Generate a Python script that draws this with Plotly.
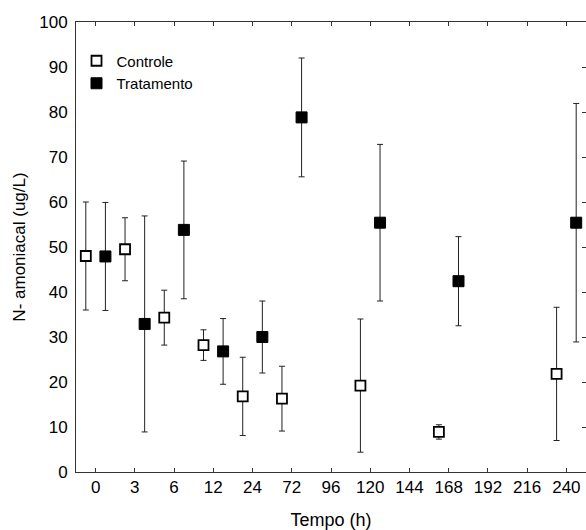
import plotly.graph_objects as go

categories = ["0", "3", "6", "12", "24", "72", "96", "120", "144", "168", "192", "216", "240"]
controle_mean = [48.0, 49.5, 34.3, 28.2, 16.8, 16.3, None, 19.2, None, 8.9, None, None, 21.8]
controle_err = [12.0, 7.0, 6.1, 3.4, 8.7, 7.2, None, 14.8, None, 1.6, None, None, 14.8]
trat_mean = [47.9, 32.9, 53.8, 26.8, 30.0, 78.8, None, 55.4, None, 42.4, None, None, 55.4]
trat_err = [12.0, 24.0, 15.3, 7.3, 8.0, 13.2, None, 17.4, None, 9.9, None, None, 26.5]

def pts(means, errs, off):
    xs, ys, es = [], [], []
    for i, (m, e) in enumerate(zip(means, errs)):
        if m is not None:
            xs.append(i + off)
            ys.append(m)
            es.append(e)
    return xs, ys, es

cx, cy, ce = pts(controle_mean, controle_err, -0.25)
tx, ty, te = pts(trat_mean, trat_err, 0.25)

fig = go.Figure()
fig.add_trace(go.Scatter(
    x=cx, y=cy, mode="markers", name="Controle",
    marker=dict(symbol="square", size=10, color="white", line=dict(color="black", width=1.8)),
    error_y=dict(type="data", array=ce, visible=True, color="#222", thickness=1, width=3),
))
fig.add_trace(go.Scatter(
    x=tx, y=ty, mode="markers", name="Tratamento",
    marker=dict(symbol="square", size=11, color="black", line=dict(color="black", width=1)),
    error_y=dict(type="data", array=te, visible=True, color="#222", thickness=1, width=3),
))
fig.add_trace(go.Scatter(x=[0], y=[0], yaxis="y2", mode="markers", marker=dict(opacity=0),
                         showlegend=False, hoverinfo="skip"))

axis_font = dict(family="Liberation Sans, Arial", size=17, color="black")
fig.update_layout(
    width=586, height=530,
    margin=dict(l=76, r=0, t=22, b=58),
    plot_bgcolor="white", paper_bgcolor="white",
    font=dict(family="Liberation Sans, Arial", color="black"),
    showlegend=True,
    legend=dict(x=0.001, y=0.95, xanchor="left", yanchor="top", bgcolor="rgba(0,0,0,0)",
                font=dict(size=15), itemwidth=30, tracegroupgap=0),
    xaxis=dict(
        range=[-0.5, 12.5], tickvals=list(range(len(categories))), ticktext=categories,
        showgrid=False, zeroline=False, showline=True, linecolor="#333", linewidth=1,
        mirror="ticks", ticks="inside", ticklen=4, tickcolor="#333",
        tickfont=axis_font, automargin=False,
        title=dict(text="Tempo (h)", font=dict(size=18), standoff=16),
    ),
    yaxis=dict(
        range=[0, 100], dtick=10, showgrid=False, zeroline=False, showline=True,
        linecolor="#333", linewidth=1, mirror=True, ticks="", ticklabelstandoff=4,
        tickfont=axis_font, automargin=False,
        title=dict(text="N- amoniacal (ug/L)", font=dict(size=17), standoff=9),
    ),
    yaxis2=dict(
        range=[0, 100], dtick=10, overlaying="y", side="right", showgrid=False,
        zeroline=False, showline=False, ticks="inside", ticklen=4, tickcolor="#333",
        showticklabels=False,
    ),
)

fig.write_html("out.html")
